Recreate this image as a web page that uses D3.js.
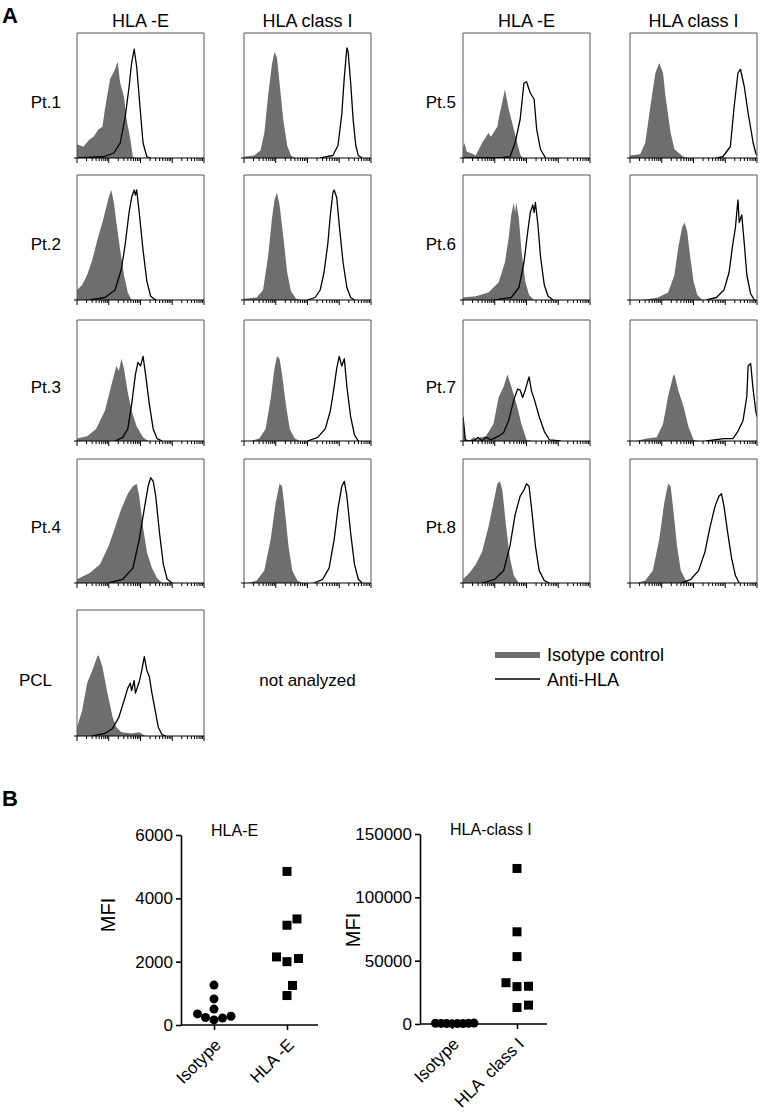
<!DOCTYPE html>
<html>
<head>
<meta charset="utf-8">
<script src="https://cdn.jsdelivr.net/npm/d3@7"></script>
<style>
  body { margin: 0; background: #fff; }
  text { font-family: "Liberation Sans", Arial, sans-serif; fill: #000; }
</style>
</head>
<body>
<div id="chart"></div>
<script>
// histogram traces: [log channel 0-100, count as % of panel height]
var pt1E_iso = [[0,11],[5,9],[10,15],[13,17],[17,23],[20,25],[22,39],[26,63],[30,71],[32,77],[34,60],[37,49],[39,31],[42,15],[44,1],[46,0]];
var pt1E_anti = [[0,0],[21,1],[29,4],[34,12],[38,33],[41,57],[43,76],[45,87],[47,73],[50,36],[52,12],[55,1],[58,0]];
var pt1I_iso = [[0,1],[8,2],[13,6],[16,20],[19,50],[22,75],[24,85],[26,80],[28,60],[31,30],[34,10],[37,2],[40,0]];
var pt1I_anti = [[60,0],[70,2],[74,10],[77,35],[79,65],[81,88],[82,85],[84,60],[86,30],[88,10],[90,2],[93,0]];

var pt2E_iso = [[0,8],[4,12],[8,20],[12,32],[16,48],[20,62],[23,74],[25,82],[27,88],[29,78],[31,62],[34,40],[37,20],[40,6],[43,0]];
var pt2E_anti = [[10,0],[22,2],[30,8],[35,25],[38,45],[41,70],[43,82],[45,88],[46,84],[47,88],[49,70],[52,40],[55,15],[58,3],[62,0]];
var pt2I_iso = [[0,1],[10,2],[15,8],[19,35],[22,65],[24,80],[26,86],[28,76],[31,50],[34,22],[37,7],[41,1],[45,0]];
var pt2I_anti = [[50,0],[56,2],[60,8],[63,22],[66,45],[68,68],[70,86],[71,88],[73,82],[75,60],[78,30],[81,10],[84,2],[87,0]];

var pt3E_iso = [[0,2],[8,4],[15,10],[22,25],[28,50],[31,62],[33,58],[35,68],[37,60],[40,40],[43,25],[47,12],[52,3],[56,0]];
var pt3E_anti = [[30,0],[36,3],[40,10],[43,30],[46,55],[48,65],[50,62],[52,70],[54,55],[57,30],[60,10],[63,2],[67,0]];
var pt3I_iso = [[5,0],[12,2],[17,10],[21,35],[24,60],[26,70],[28,68],[30,55],[33,30],[36,10],[40,2],[44,0]];
var pt3I_anti = [[50,0],[58,3],[64,10],[68,25],[71,45],[73,60],[75,70],[77,62],[79,68],[81,45],[84,20],[87,5],[90,0]];

var pt4E_iso = [[0,3],[10,8],[18,15],[25,30],[30,45],[35,60],[40,72],[44,78],[47,80],[49,70],[52,45],[55,25],[59,12],[63,4],[67,0]];
var pt4E_anti = [[25,0],[36,3],[44,12],[49,35],[53,60],[56,78],[58,85],[60,82],[62,70],[65,40],[68,15],[71,3],[75,0]];
var pt4I_iso = [[3,0],[10,2],[16,10],[21,35],[25,65],[28,80],[30,78],[32,60],[35,30],[38,10],[42,2],[46,0]];
var pt4I_anti = [[55,0],[62,3],[67,12],[71,35],[74,60],[77,78],[79,82],[81,70],[84,40],[87,15],[90,3],[93,0]];

var pt5E_iso = [[0,8],[1,12],[3,5],[6,4],[10,2],[12,6],[15,12],[20,20],[22,17],[27,25],[29,36],[31,45],[33,55],[36,39],[40,23],[42,15],[45,3],[47,0]];
var pt5E_anti = [[0,0],[31,0.5],[37,1],[41,12],[45,31],[48,60],[50,61],[53,52],[56,47],[58,23],[61,7],[65,0]];
var pt5I_iso = [[0,2],[8,3],[12,12],[16,41],[20,68],[23,76],[26,68],[28,49],[32,20],[35,7],[42,1],[46,0]];
var pt5I_anti = [[68,0],[73,1],[79,9],[82,41],[85,68],[87,71],[90,57],[93,36],[97,12],[99,4],[100,2]];

var pt6E_iso = [[0,2],[10,3],[20,6],[28,14],[33,30],[36,50],[38,68],[40,78],[41,70],[42,78],[44,65],[46,40],[49,15],[52,4],[56,0]];
var pt6E_anti = [[25,0],[38,2],[44,10],[48,30],[51,55],[53,70],[55,76],[56,70],[57,78],[59,60],[61,35],[64,12],[67,3],[71,0]];
var pt6I_iso = [[10,0],[22,2],[30,6],[35,20],[38,42],[41,58],[43,62],[45,55],[47,38],[50,15],[53,4],[57,0]];
var pt6I_anti = [[60,0],[68,2],[74,8],[78,22],[81,45],[83,58],[85,80],[86,62],[88,68],[90,45],[92,20],[95,5],[98,0]];

var pt7E_iso = [[0,20],[2,2],[5,0],[8,3],[11,1],[14,3],[18,4],[24,14],[28,36],[32,45],[35,55],[38,45],[42,31],[46,14],[50,1],[55,0]];
var pt7E_anti = [[0,20],[2,0],[8,0],[12,3],[15,0],[18,3],[22,1],[28,4],[32,7],[36,17],[40,34],[43,43],[45,42],[47,36],[49,42],[52,53],[54,41],[56,35],[60,20],[64,8],[68,1],[77,0]];
var pt7I_iso = [[5,0],[13,2],[21,3],[26,14],[30,37],[34,54],[35,55],[38,42],[42,29],[46,12],[50,1],[54,0]];
var pt7I_anti = [[60,0],[74,2],[81,2],[85,8],[89,17],[92,37],[93,62],[95,64],[97,42],[99,25],[100,20]];

var pt8E_iso = [[0,3],[5,8],[10,15],[15,25],[20,45],[24,65],[27,80],[29,82],[31,75],[34,45],[37,20],[40,6],[44,0]];
var pt8E_anti = [[15,0],[25,3],[32,10],[37,30],[41,55],[45,70],[48,75],[50,80],[52,78],[54,60],[57,30],[60,10],[64,2],[68,0]];
var pt8I_iso = [[5,0],[12,2],[18,10],[23,35],[27,65],[30,80],[32,78],[34,60],[37,30],[40,10],[44,2],[48,0]];
var pt8I_anti = [[40,0],[48,3],[54,10],[59,25],[63,45],[67,62],[70,70],[72,72],[74,62],[77,40],[80,20],[83,6],[86,0]];

var pclE_iso = [[0,7],[4,20],[8,42],[12,52],[16,63],[17,64],[20,55],[24,34],[28,15],[31,7],[35,3],[43,2],[49,3],[54,0]];
var pclE_anti = [[12,0],[22,2],[28,6],[33,15],[37,28],[40,38],[42,42],[43,36],[45,44],[46,34],[49,43],[51,52],[53,63],[55,52],[57,47],[59,34],[62,18],[64,7],[67,1],[70,0]];

var colHeaders = ["HLA -E", "HLA class I", "HLA -E", "HLA class I"];
var rowLabels = [["Pt.1", "Pt.2", "Pt.3", "Pt.4", "PCL"], ["Pt.5", "Pt.6", "Pt.7", "Pt.8"]];
var legendLabels = ["Isotype control", "Anti-HLA"];

// panel B: MFI values
var categoriesE = ["Isotype", "HLA -E"];
var categoriesI = ["Isotype", "HLA  class I"];
var isoE = [237, 351, 161, 1261, 825, 502, 218, 275];
var hlaE = [4850, 3150, 3350, 2100, 2000, 2150, 930, 1250];
var isoI = [350, 520, 280, 610, 430, 300, 700, 480];
var hlaI = [122800, 72800, 53200, 29800, 29500, 32600, 13000, 14900];
var ticksE = [0, 2000, 4000, 6000];
var ticksI = [0, 50000, 100000, 150000];

var panels = [
  {col: 0, row: 0, iso: pt1E_iso, anti: pt1E_anti}, {col: 1, row: 0, iso: pt1I_iso, anti: pt1I_anti},
  {col: 0, row: 1, iso: pt2E_iso, anti: pt2E_anti}, {col: 1, row: 1, iso: pt2I_iso, anti: pt2I_anti},
  {col: 0, row: 2, iso: pt3E_iso, anti: pt3E_anti}, {col: 1, row: 2, iso: pt3I_iso, anti: pt3I_anti},
  {col: 0, row: 3, iso: pt4E_iso, anti: pt4E_anti}, {col: 1, row: 3, iso: pt4I_iso, anti: pt4I_anti},
  {col: 0, row: 4, iso: pclE_iso, anti: pclE_anti},
  {col: 2, row: 0, iso: pt5E_iso, anti: pt5E_anti}, {col: 3, row: 0, iso: pt5I_iso, anti: pt5I_anti},
  {col: 2, row: 1, iso: pt6E_iso, anti: pt6E_anti}, {col: 3, row: 1, iso: pt6I_iso, anti: pt6I_anti},
  {col: 2, row: 2, iso: pt7E_iso, anti: pt7E_anti}, {col: 3, row: 2, iso: pt7I_iso, anti: pt7I_anti},
  {col: 2, row: 3, iso: pt8E_iso, anti: pt8E_anti}, {col: 3, row: 3, iso: pt8I_iso, anti: pt8I_anti}
];

var width = 760, height = 1115;
var colX = [77, 244, 463, 630];
var rowY = [33, 175, 320, 459, 610];
var rowH = [125, 125, 121, 124, 126];
var panelW = 127;
var isoColor = "#6e6e6e";

var svg = d3.select("#chart").append("svg")
    .attr("width", width)
    .attr("height", height)
    .style("background", "#fff");

// panel letters
svg.append("text").attr("x", 2).attr("y", 23).text("A")
    .style("font-size", "22px").style("font-weight", "bold");
svg.append("text").attr("x", 2).attr("y", 806).text("B")
    .style("font-size", "22px").style("font-weight", "bold");

// column headers
colHeaders.forEach(function (h, i) {
    svg.append("text")
        .attr("x", colX[i] + panelW / 2)
        .attr("y", 27)
        .attr("text-anchor", "middle")
        .style("font-size", "18px")
        .text(h);
});

// row labels
rowLabels[0].forEach(function (l, r) {
    svg.append("text").attr("x", r === 4 ? 52 : 61).attr("y", rowY[r] + rowH[r] * 0.6)
        .attr("text-anchor", "end").style("font-size", "17px").text(l);
});
rowLabels[1].forEach(function (l, r) {
    svg.append("text").attr("x", 456).attr("y", rowY[r] + rowH[r] * 0.6)
        .attr("text-anchor", "end").style("font-size", "17px").text(l);
});

svg.append("text").attr("x", colX[1] + panelW / 2).attr("y", rowY[4] + rowH[4] * 0.6)
    .attr("text-anchor", "middle").style("font-size", "17px").text("not analyzed");

// histogram panels
panels.forEach(function (p, i) {
    var x0 = colX[p.col], y0 = rowY[p.row], h = rowH[p.row];
    var x = d3.scaleLinear().domain([0, 100]).range([x0, x0 + panelW]);
    var y = d3.scaleLinear().domain([0, 100]).range([y0 + h, y0]);
    var logX = d3.scaleLog().domain([1, 1e4]).range([x0, x0 + panelW]);

    var clipId = "clip" + i;
    svg.append("clipPath").attr("id", clipId)
        .append("rect").attr("x", x0).attr("y", y0).attr("width", panelW).attr("height", h);

    var g = svg.append("g").attr("clip-path", "url(#" + clipId + ")");

    var area = d3.area()
        .x(function (d) { return x(d[0]); })
        .y0(y(0))
        .y1(function (d) { return y(d[1]); });
    var line = d3.line()
        .x(function (d) { return x(d[0]); })
        .y(function (d) { return y(d[1]); });

    g.append("path").datum(p.iso).attr("d", area)
        .style("fill", isoColor).style("stroke", "none");
    g.append("path").datum(p.anti).attr("d", line)
        .style("fill", "none").style("stroke", "#000").style("stroke-width", "1.3px")
        .style("stroke-linejoin", "round");

    // frame (top, left, right)
    svg.append("path")
        .attr("d", "M" + x0 + "," + (y0 + h) + "V" + y0 + "H" + (x0 + panelW) + "V" + (y0 + h))
        .style("fill", "none").style("stroke", "#555").style("stroke-width", "1px");

    // log axis
    svg.append("line")
        .attr("x1", x0 - 3).attr("x2", x0 + panelW)
        .attr("y1", y0 + h).attr("y2", y0 + h)
        .style("stroke", "#000").style("stroke-width", "1.2px");
    var tks = logX.ticks();
    svg.selectAll(null).data(tks).enter().append("line")
        .attr("x1", function (d) { return logX(d); })
        .attr("x2", function (d) { return logX(d); })
        .attr("y1", y0 + h)
        .attr("y2", function (d) { return y0 + h + (Math.log10(d) % 1 === 0 ? 5 : 3); })
        .style("stroke", "#000").style("stroke-width", "1px");
});

// legend
svg.append("rect").attr("x", 495).attr("y", 652).attr("width", 45).attr("height", 6)
    .style("fill", isoColor);
svg.append("line").attr("x1", 495).attr("x2", 540).attr("y1", 679).attr("y2", 679)
    .style("stroke", "#000").style("stroke-width", "1.5px");
svg.append("text").attr("x", 547).attr("y", 661).style("font-size", "18px").text(legendLabels[0]);
svg.append("text").attr("x", 547).attr("y", 686).style("font-size", "18px").text(legendLabels[1]);

// beeswarm-like placement of points around a category
function swarm(values, yScale, cx, minDist) {
    var placed = [];
    var out = new Array(values.length);
    var order = values.map(function (v, i) { return i; })
        .sort(function (a, b) { return values[a] - values[b]; });
    order.forEach(function (i) {
        var yy = yScale(values[i]);
        var best = null;
        for (var k = 0; k < 200 && best === null; k++) {
            var cands = k === 0 ? [0] : [k * 0.5, -k * 0.5];
            for (var c = 0; c < cands.length; c++) {
                var dx = cands[c];
                var ok = placed.every(function (p) { return Math.hypot(p.dx - dx, p.y - yy) >= minDist; });
                if (ok) { best = dx; break; }
            }
        }
        placed.push({dx: best, y: yy});
        out[i] = {x: cx + best, y: yy};
    });
    return out;
}

function dotPlot(opts) {
    var y = d3.scaleLinear().domain([0, opts.ticks[opts.ticks.length - 1]])
        .range([opts.y0, opts.y1]);
    var x = d3.scalePoint().domain(opts.cats).range([opts.ax + opts.c0, opts.ax + opts.c1]);
    var g = svg.append("g");

    // x axis line
    g.append("line").attr("x1", opts.ax).attr("x2", opts.ax + opts.len)
        .attr("y1", opts.y0).attr("y2", opts.y0)
        .style("stroke", "#000").style("stroke-width", "1.6px");
    var xAxis = g.append("g").attr("transform", "translate(0," + opts.y0 + ")")
        .call(d3.axisBottom(x).tickSize(5).tickSizeOuter(0).tickFormat(""));
    xAxis.select(".domain").remove();
    xAxis.selectAll("line").style("stroke-width", "1.6px");

    var yAxis = g.append("g").attr("transform", "translate(" + opts.ax + ",0)")
        .call(d3.axisLeft(y).tickValues(opts.ticks).tickSize(5).tickSizeOuter(0)
            .tickPadding(3).tickFormat(d3.format("d")));
    yAxis.select(".domain").style("stroke-width", "1.6px");
    yAxis.selectAll("line").style("stroke-width", "1.6px");
    yAxis.selectAll("text").style("font-size", "17px")
        .style("font-family", "'Liberation Sans', Arial, sans-serif");

    opts.cats.forEach(function (c) {
        g.append("text")
            .attr("transform", "translate(" + (x(c) + 8) + "," + (opts.y0 + 21) + ") rotate(-45)")
            .attr("text-anchor", "end")
            .style("font-size", "17px")
            .style("white-space", "pre")
            .text(c);
    });

    g.append("text").attr("x", opts.ax + 30).attr("y", opts.y1 + 1)
        .style("font-size", "16px").text(opts.title);

    g.append("text")
        .attr("transform", "translate(" + opts.mfiX + "," + opts.mfiY + ") rotate(-90)")
        .attr("text-anchor", "middle")
        .style("font-size", "20px").text("MFI");

    var isoPts = swarm(opts.iso, y, x(opts.cats[0]), opts.dotGap);
    g.selectAll(null).data(isoPts).enter().append("circle")
        .attr("cx", function (d) { return d.x; })
        .attr("cy", function (d) { return d.y; })
        .attr("r", 4.5).style("fill", "#000");

    var hlaPts = swarm(opts.hla, y, x(opts.cats[1]), 11.5);
    g.selectAll(null).data(hlaPts).enter().append("rect")
        .attr("x", function (d) { return d.x - 4.5; })
        .attr("y", function (d) { return d.y - 4.5; })
        .attr("width", 9).attr("height", 9).style("fill", "#000");
}

dotPlot({ax: 181, y0: 1025, y1: 835, c0: 33, c1: 106, len: 137, cats: categoriesE, ticks: ticksE,
    iso: isoE, hla: hlaE, dotGap: 8.5, title: "HLA-E", mfiX: 115, mfiY: 915});
dotPlot({ax: 420, y0: 1024, y1: 834, c0: 32, c1: 97, len: 127, cats: categoriesI, ticks: ticksI,
    iso: isoI, hla: hlaI, dotGap: 5.5, title: "HLA-class I", mfiX: 360, mfiY: 930});
</script>
</body>
</html>
